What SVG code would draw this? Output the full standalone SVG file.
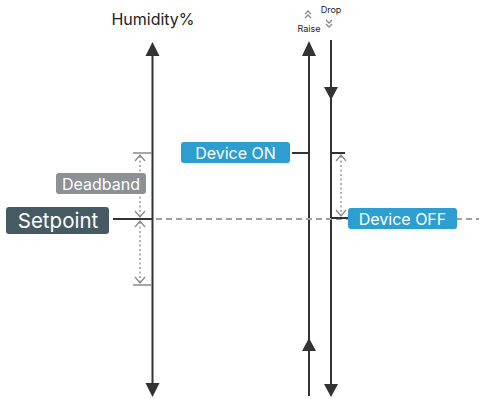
<svg xmlns="http://www.w3.org/2000/svg" width="479" height="399" viewBox="0 0 479 399">
<defs>
<style>
.ln{stroke:#333;stroke-width:2;fill:none}
.dim{stroke:#9a9a9a;stroke-width:1.5;fill:none;stroke-dasharray:2 2.5}
.tick{stroke:#8a8a8a;stroke-width:1.5;fill:none}
.chev{stroke:#8a8a8a;stroke-width:1.3;fill:none}
.lbl{font-family:Inter,"Liberation Sans",sans-serif;fill:#fff}
.t{font-family:Inter,"Liberation Sans",sans-serif;fill:#222}
.ah{fill:#333}
</style>
</defs>
<rect width="479" height="399" fill="#fff"/>
<g id="connectors">
<line class="ln" x1="152.5" y1="52" x2="152.5" y2="386"/>
<polygon class="ah" points="152.5,42 145.5,56 159.5,56"/>
<polygon class="ah" points="152.5,397 145.5,383 159.5,383"/>
<line class="ln" x1="309" y1="52" x2="309" y2="396"/>
<polygon class="ah" points="309,41 302,56 316,56"/>
<polygon class="ah" points="309,338 302,351 316,351"/>
<line class="ln" x1="331" y1="40" x2="331" y2="388"/>
<polygon class="ah" points="331,100 324,87 338,87"/>
<polygon class="ah" points="331,397 324,384 338,384"/>
<line x1="156" y1="219" x2="479" y2="219" stroke="#a0a0a0" stroke-width="2" stroke-dasharray="6 4"/>
<line class="ln" x1="113" y1="219" x2="152" y2="219"/>
<line class="ln" x1="292" y1="153" x2="309" y2="153"/>
<line class="ln" x1="331" y1="218" x2="348" y2="218"/>
<line class="ln" x1="331" y1="153" x2="345" y2="153"/>
<line class="tick" x1="133" y1="153" x2="152" y2="153"/>
<line class="tick" x1="133" y1="285" x2="152" y2="285"/>
<line class="dim" x1="140" y1="156" x2="140" y2="216"/>
<line class="dim" x1="140" y1="222" x2="140" y2="282"/>
<polyline class="chev" points="135,161 140,155 145,161"/>
<polyline class="chev" points="135,211 140,217 145,211"/>
<polyline class="chev" points="135,227 140,221 145,227"/>
<polyline class="chev" points="135,277 140,283 145,277"/>
<line class="dim" x1="341" y1="156" x2="341" y2="215"/>
<polyline class="chev" points="336,161 341,155 346,161"/>
<polyline class="chev" points="336,210 341,216 346,210"/>
</g>
<g id="humidity">
<text class="t" x="153" y="25" font-size="16" text-anchor="middle">Humidity%</text>
</g>
<g id="raise">
<polyline class="chev" points="305,14 308,11 311,14" stroke="#444"/>
<polyline class="chev" points="305,18 308,15 311,18" stroke="#444"/>
<text class="t" x="309" y="32" font-size="9" text-anchor="middle" fill="#444">Raise</text>
</g>
<g id="drop">
<text class="t" x="331" y="13" font-size="9" text-anchor="middle" fill="#444">Drop</text>
<polyline class="chev" points="326,20 329,23 332,20" stroke="#444"/>
<polyline class="chev" points="326,24 329,27 332,24" stroke="#444"/>
</g>
<g id="setpoint">
<rect x="6" y="207" width="103" height="27" rx="3" fill="#455a62"/>
<text class="lbl" x="58" y="227.5" font-size="20.5" text-anchor="middle">Setpoint</text>
</g>
<g id="deadband">
<rect x="56" y="173" width="90" height="21" rx="3" fill="#8c9196"/>
<text class="lbl" x="101" y="189.5" font-size="16" text-anchor="middle">Deadband</text>
</g>
<g id="device-on">
<rect x="181" y="142" width="109" height="21" rx="3" fill="#2c9ed0"/>
<text class="lbl" x="235.5" y="158.5" font-size="16" text-anchor="middle">Device ON</text>
</g>
<g id="device-off">
<rect x="348" y="208" width="109" height="21" rx="3" fill="#2c9ed0"/>
<text class="lbl" x="402.5" y="224.5" font-size="16" text-anchor="middle">Device OFF</text>
</g>
</svg>
